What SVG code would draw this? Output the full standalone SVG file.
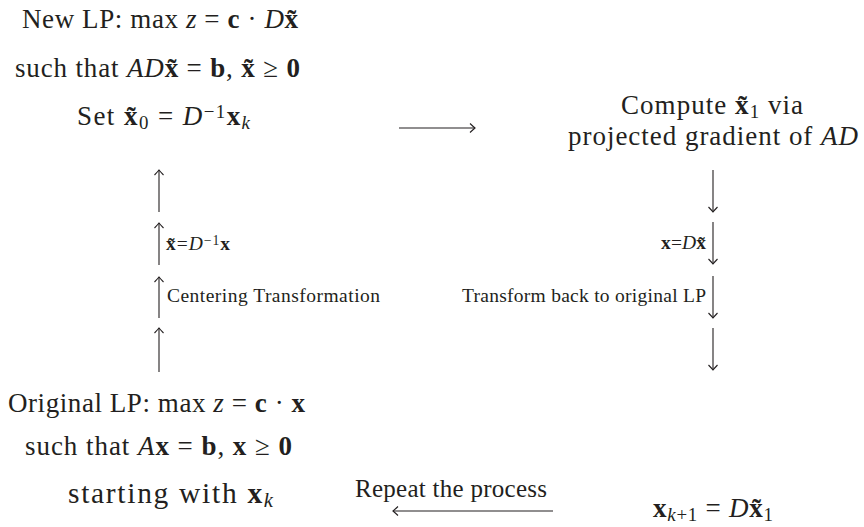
<svg xmlns="http://www.w3.org/2000/svg" width="864" height="527" viewBox="0 0 864 527">
<style>
text{font-family:"Liberation Serif","Times New Roman",serif;fill:#231f20;font-size:27px}
.m{text-anchor:middle}
.e{text-anchor:end}
.i{font-style:italic}
.b{font-weight:bold}
.sub{font-size:70%;baseline-shift:-20%}
.sup{font-size:70%;baseline-shift:38%}
.lb{font-size:19.5px}
.rp{font-size:25px}
.st{font-size:29.5px}
.arr{stroke:#231f20;stroke-width:1.1;fill:none;marker-end:url(#ah)}
</style>
<defs>
<marker id="ah" markerUnits="userSpaceOnUse" orient="auto" markerWidth="12" markerHeight="12" refX="0" refY="0" viewBox="-8 -6 10 12" overflow="visible"><path d="M-5,-4.5 Q-1.5,-1.2 0,0 Q-1.5,1.2 -5,4.5" fill="none" stroke="#231f20" stroke-width="1.1"/></marker>
</defs>
<rect width="864" height="527" fill="#fff"/>
<g id="new-lp">
<text class="m" x="160" y="28" textLength="276" lengthAdjust="spacing">New LP: max <tspan class="i">z</tspan> = <tspan class="b">c</tspan> · <tspan class="i">D</tspan><tspan class="b">x̃</tspan></text>
<text class="m" x="157.5" y="77" textLength="285" lengthAdjust="spacing">such that <tspan class="i">AD</tspan><tspan class="b">x̃</tspan> = <tspan class="b">b</tspan>, <tspan class="b">x̃</tspan> ≥ <tspan class="b">0</tspan></text>
</g>
<g id="set-x0">
<text class="m" x="163.5" y="125" textLength="173" lengthAdjust="spacing">Set <tspan class="b">x̃</tspan><tspan class="sub">0</tspan> = <tspan class="i">D</tspan><tspan class="sup">−1</tspan><tspan class="b">x</tspan><tspan class="sub i">k</tspan></text>
</g>
<g id="compute">
<text class="m" x="712" y="114" textLength="182" lengthAdjust="spacing">Compute <tspan class="b">x̃</tspan><tspan class="sub">1</tspan> via</text>
<text class="m" x="713" y="145" textLength="290" lengthAdjust="spacing">projected gradient of <tspan class="i">AD</tspan></text>
</g>
<g id="orig-lp">
<text class="m" x="156.5" y="412" textLength="297" lengthAdjust="spacing">Original LP: max <tspan class="i">z</tspan> = <tspan class="b">c</tspan> · <tspan class="b">x</tspan></text>
<text class="m" x="158.5" y="455" textLength="267" lengthAdjust="spacing">such that <tspan class="i">A</tspan><tspan class="b">x</tspan> = <tspan class="b">b</tspan>, <tspan class="b">x</tspan> ≥ <tspan class="b">0</tspan></text>
</g>
<g id="start">
<text class="m st" x="170.5" y="503" textLength="205" lengthAdjust="spacing">starting with <tspan class="b">x</tspan><tspan class="sub i">k</tspan></text>
</g>
<g id="xk1">
<text class="m" x="713" y="517" textLength="120" lengthAdjust="spacing"><tspan class="b">x</tspan><tspan class="sub"><tspan class="i">k</tspan>+1</tspan> = <tspan class="i">D</tspan><tspan class="b">x̃</tspan><tspan class="sub">1</tspan></text>
</g>
<g id="connectors">
<line class="arr" x1="399" y1="128" x2="475" y2="128"/>
<line class="arr" x1="159" y1="212" x2="159" y2="170"/>
<line class="arr" x1="159" y1="265" x2="159" y2="223"/>
<line class="arr" x1="159" y1="318" x2="159" y2="277"/>
<line class="arr" x1="159" y1="372" x2="159" y2="328"/>
<text class="lb" x="166" y="250" textLength="64" lengthAdjust="spacing"><tspan class="b">x̃</tspan>=<tspan class="i">D</tspan><tspan class="sup">−1</tspan><tspan class="b">x</tspan></text>
<text class="lb" x="167" y="302" textLength="213" lengthAdjust="spacing">Centering Transformation</text>
<line class="arr" x1="713" y1="170" x2="713" y2="212"/>
<line class="arr" x1="713" y1="222" x2="713" y2="264"/>
<line class="arr" x1="713" y1="276" x2="713" y2="318"/>
<line class="arr" x1="713" y1="328" x2="713" y2="370"/>
<text class="lb e" x="706" y="249" textLength="45" lengthAdjust="spacing"><tspan class="b">x</tspan>=<tspan class="i">D</tspan><tspan class="b">x̃</tspan></text>
<text class="lb e" x="706" y="302" textLength="244" lengthAdjust="spacing">Transform back to original LP</text>
<line class="arr" x1="553" y1="511" x2="393" y2="511"/>
<text class="m rp" x="451" y="497" textLength="192" lengthAdjust="spacing">Repeat the process</text>
</g>
</svg>
